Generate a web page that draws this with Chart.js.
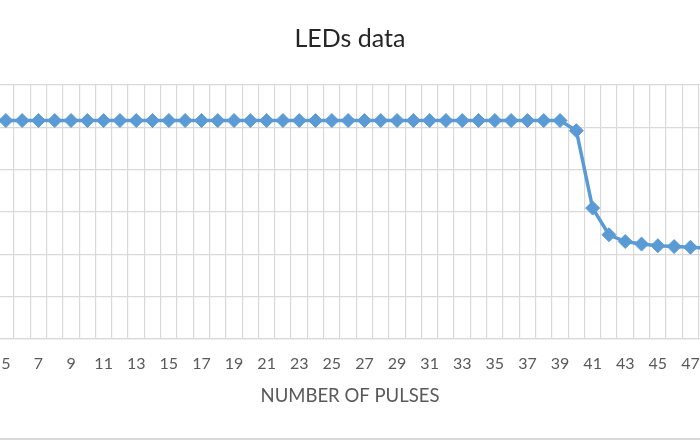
<!DOCTYPE html>
<html>
<head>
<meta charset="utf-8">
<script src="https://cdn.jsdelivr.net/npm/chart.js@4"></script>
<style>
	html, body {
		margin: 0;
		padding: 0;
		width: 700px;
		height: 441px;
		overflow: hidden;
		background: #ffffff;
	}
	#frame {
		position: absolute;
		left: 0;
		top: 0;
		width: 700px;
		height: 438px;
		border-bottom: 2px solid #d9d9d9;
	}
	#wrap {
		position: absolute;
		left: -30px;
		top: 0;
		width: 760px;
		height: 438px;
	}
</style>
</head>
<body>
<div id="frame"></div>
<div id="wrap"><canvas id="lineChart"></canvas></div>
<script>
// pulse numbers 1..48 (the picture only shows ~5..47)
let pulses = [];
for (let i = 1; i <= 48; i++) pulses.push(i);

// readings (y axis 0..6, labels cropped)
let plateau = [
	5.16, 5.16, 5.16, 5.16, 5.16, 5.16, 5.16, 5.16, 5.16, 5.16,
	5.16, 5.16, 5.16, 5.16, 5.16, 5.16, 5.16, 5.16, 5.16, 5.16,
	5.16, 5.16, 5.16, 5.16, 5.16, 5.16, 5.16, 5.16, 5.16, 5.16,
	5.16, 5.16, 5.16, 5.16, 5.16, 5.16, 5.16, 5.16, 5.16,
];
let dropOff = [4.92, 3.09, 2.46, 2.30, 2.24, 2.20, 2.18, 2.165, 2.14];
let ledValues = plateau.concat(dropOff);

let yTicks = [0, 1, 2, 3, 4, 5, 6];
// visible window of pulse numbers (picture is cropped at both sides)
let xMin = 3.2914;
let xMax = 48.936;

let gridColor = "#d9d9d9";
let textColor = "#595959";

let lineChart = document.getElementById("lineChart");

let ledData = {
	label: "LEDs",
	data: ledValues,
	tension: 0,
	fill: false,
	borderColor: "#5b9bd5",
	backgroundColor: "#5b9bd5",
	borderWidth: 3.5,
	pointStyle: "rectRot",
	pointRadius: 7,
	pointBorderWidth: 1,
	pointBorderColor: "#5b9bd5",
	pointBackgroundColor: "#5b9bd5",
};

let chartOptions = {
	responsive: true,
	maintainAspectRatio: false,
	animation: false,
	layout: {
		padding: { left: 0, right: 0, top: 0, bottom: 26.9 },
	},
	plugins: {
		legend: { display: false },
		tooltip: { enabled: false },
		title: {
			display: true,
			text: "LEDs data",
			color: "#262626",
			font: { family: "Lato", size: 25, weight: "normal" },
			padding: { top: 24, bottom: 31 },
		},
	},
	scales: {
		x: {
			type: "linear",
			min: xMin,
			max: xMax,
			// grid lines sit between pulses, labels on the odd pulses
			afterBuildTicks: function (axis) {
				let t = [];
				for (let v = 3.5; v <= 47.5; v++) t.push({ value: v });
				axis.ticks = t;
			},
			grid: {
				color: gridColor,
				lineWidth: 1.2,
				drawTicks: true,
				tickLength: 15,
				tickColor: "rgba(0,0,0,0)",
			},
			border: { color: gridColor, width: 1.2 },
			ticks: {
				autoSkip: false,
				maxRotation: 0,
				padding: 0,
				labelOffset: 8.15,
				color: textColor,
				font: { family: "Lato", size: 16 },
				callback: function (value) {
					let n = value + 0.5;
					return n % 2 === 1 ? String(n) : "";
				},
			},
			title: {
				display: true,
				text: "NUMBER OF PULSES",
				color: textColor,
				font: { family: "Lato", size: 18.5 },
				padding: { top: 11.9, bottom: 4 },
			},
		},
		y: {
			min: yTicks[0],
			max: yTicks[yTicks.length - 1],
			afterBuildTicks: function (axis) {
				axis.ticks = yTicks.map((v) => ({ value: v }));
			},
			grid: {
				color: gridColor,
				lineWidth: 1.2,
				drawTicks: false,
			},
			border: { display: false },
			ticks: { display: false },
		},
	},
};

let chartData = {
	labels: pulses,
	datasets: [ledData],
};

let ctx = new Chart(lineChart, {
	type: "line",
	data: chartData,
	options: chartOptions,
});
</script>
</body>
</html>
